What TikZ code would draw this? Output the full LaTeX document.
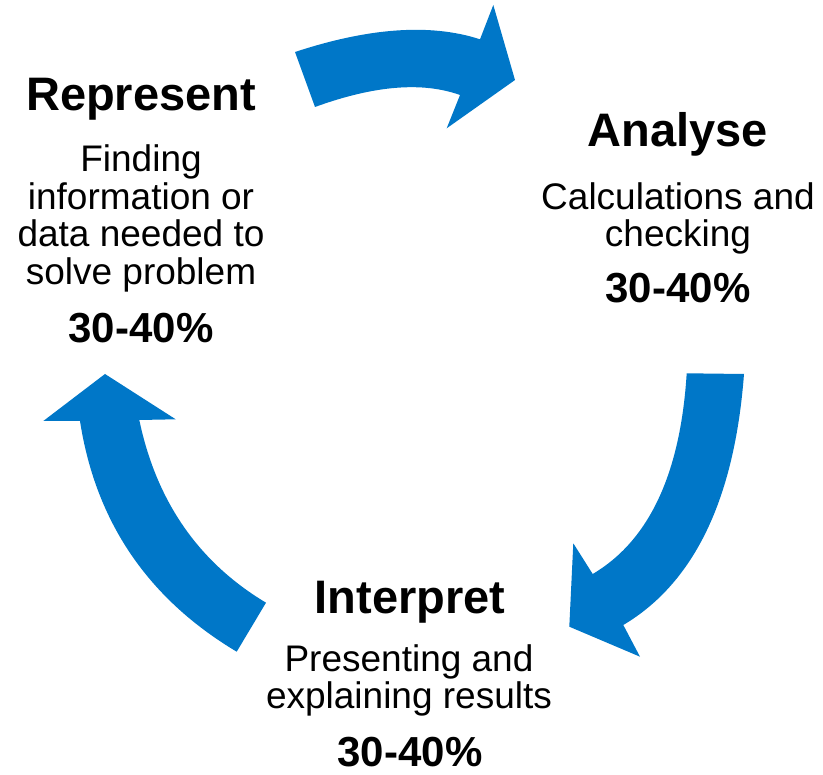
\documentclass[tikz,border=0pt]{standalone}
\usepackage{fontspec}
\setmainfont{Liberation Sans}
\definecolor{cycleblue}{HTML}{0077C8}
\begin{document}
\begin{tikzpicture}[x=1pt,y=-1pt,
  title/.style={font=\fontsize{47}{47}\selectfont\bfseries, anchor=base, inner sep=0pt},
  body/.style={font=\fontsize{37}{37}\selectfont, anchor=base, inner sep=0pt},
  pct/.style={font=\fontsize{42}{42}\selectfont\bfseries, anchor=base, inner sep=0pt},
  bigarrow/.style={fill=cycleblue, draw=none}]
\useasboundingbox (0,0) rectangle (823,775);

% top arrow (Represent -> Analyse)
\fill[bigarrow] (295,52) .. controls (368,28) and (430,23) .. (480,39.3)
  -- (493.3,5) -- (515,80) -- (446.7,128.3) -- (460,95)
  .. controls (422.3,81.5) and (374,85.5) .. (315,107) -- cycle;

% right arrow (Analyse -> Interpret)
\fill[bigarrow] (686.7,373.3) -- (744,374)
  .. controls (734.5,499.2) and (694.2,582.9) .. (623.3,625)
  -- (640,656.7) -- (569.3,626.7) -- (573.3,543.3) -- (592.7,574)
  .. controls (649.2,540.6) and (680.4,473.7) .. (686.7,373.3) -- cycle;

% left arrow (Interpret -> Represent)
\fill[bigarrow] (236.7,651.7) .. controls (147.8,598.6) and (95.6,521.7) .. (80,421)
  -- (43.3,421) -- (105,374) -- (175.7,419.3) -- (139.3,420)
  .. controls (156.4,501.5) and (198.7,562.4) .. (266,602.7) -- cycle;

% Represent block
\node[title] (rep) at (141,111) {Represent};
\node[body] (rep1) at (141,172) {Finding};
\node[body] (rep2) at (141,209.5) {information or};
\node[body] (rep3) at (141,247) {data needed to};
\node[body] (rep4) at (141,284.5) {solve problem};
\node[pct] (reppct) at (141,343) {30-40\%};

% Analyse block
\node[title] (ana) at (678,146.7) {Analyse};
\node[body] (ana1) at (678,210) {Calculations and};
\node[body] (ana2) at (678,246.7) {checking};
\node[pct] (anapct) at (678,303) {30-40\%};

% Interpret block
\node[title] (int) at (410,613.3) {Interpret};
\node[body] (int1) at (409,671.7) {Presenting and};
\node[body] (int2) at (409,708.3) {explaining results};
\node[pct] (intpct) at (410,766.7) {30-40\%};
\end{tikzpicture}
\end{document}
